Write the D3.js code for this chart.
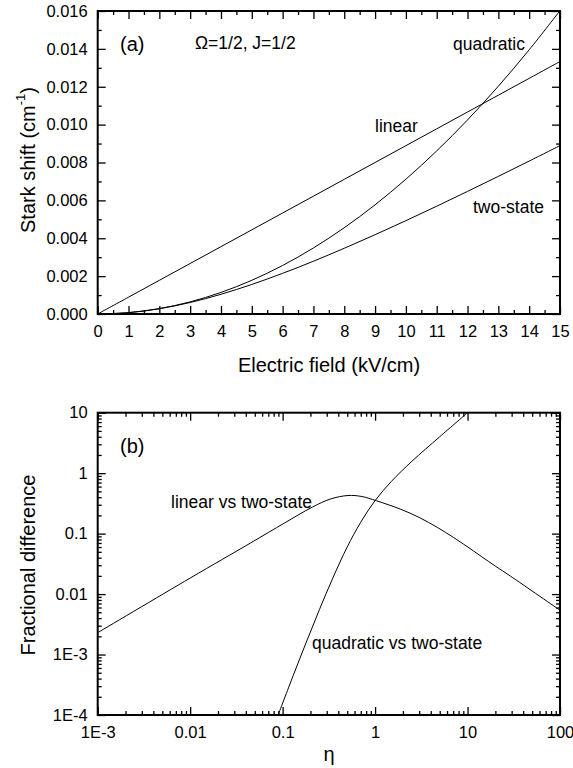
<!DOCTYPE html>
<html><head><meta charset="utf-8">
<script src="https://cdn.jsdelivr.net/npm/d3@7"></script>
<style>
html,body{margin:0;padding:0;background:#fff;}
svg{display:block;font-family:"Liberation Sans",Arial,Helvetica,sans-serif;}
</style></head>
<body>
<svg id="chart" width="573" height="768"></svg>
<script>
// ---------- Data: panel (a) ----------
const fieldA = [0,1,2,3,4,5,6,7,8,9,10,11,12,13,14,15];
const linearA = [0,0.000889,0.001778,0.002667,0.003556,0.004444,0.005333,0.006222,0.007111,0.008,0.008889,0.009778,0.010667,0.011556,0.012444,0.013333];
const quadraticA = [0,0.0000712,0.000285,0.000641,0.001139,0.001779,0.002562,0.003488,0.004556,0.005766,0.007118,0.008613,0.01025,0.01203,0.01395,0.01602];
const twoStateA = [0,0.0000711,0.000278,0.000607,0.001041,0.00156,0.002147,0.002787,0.003471,0.004187,0.004929,0.005693,0.006474,0.007269,0.008076,0.008892];
const xTickLabelsA = ["0","1","2","3","4","5","6","7","8","9","10","11","12","13","14","15"];
const yTickLabelsA = ["0.000","0.002","0.004","0.006","0.008","0.010","0.012","0.014","0.016"];

// ---------- Data: panel (b) ----------
const etaLin = [0.001,0.01,0.045,0.105,0.21,0.33,0.51,0.72,1.03,1.87,3,4.7,7,9.9,20,29,100];
const linVsTwo = [0.0023,0.0184,0.070,0.150,0.275,0.374,0.427,0.411,0.35,0.255,0.185,0.127,0.087,0.061,0.029,0.0199,0.0054];
const etaQuad = [0.0894,0.13,0.18,0.25,0.35,0.5,0.7,1.0,1.5,2.5,5,10];
const quadVsTwo = [0.0001,0.000447,0.00159,0.00553,0.0186,0.0603,0.1545,0.352,0.73,1.57,4.0,10];
const xTickLabelsB = ["1E-3","0.01","0.1","1","10","100"];
const yTickLabelsB = ["1E-4","1E-3","0.01","0.1","1","10"];

const svg = d3.select("#chart");

// panel geometry
const A = {l:97.7, r:560, t:11, b:314};
const B = {l:97.7, r:560, t:412.7, b:715};

const xA = d3.scaleLinear().domain([0,15]).range([A.l,A.r]);
const yA = d3.scaleLinear().domain([0,0.016]).range([A.b,A.t]);
const xB = d3.scaleLog().domain([1e-3,100]).range([B.l,B.r]);
const yB = d3.scaleLog().domain([1e-4,10]).range([B.b,B.t]);

const MAJ = 8, MIN = 4;
const fontTick = "16.5px";

function drawAxis(g, axis){
  g.call(axis);
  g.select(".domain").remove();
  g.selectAll(".tick line").attr("stroke","#000").attr("stroke-width",1.3);
  g.selectAll(".tick text").attr("fill","#000").style("font-size",fontTick).style("font-family","Liberation Sans, Arial, sans-serif");
}

function panelAxes(P, xs, ys, xMaj, xMin, yMaj, yMin, xLab, yLab){
  drawAxis(svg.append("g").attr("transform",`translate(0,${P.b})`),
    d3.axisBottom(xs).tickValues(xMaj).tickSizeInner(-MAJ).tickSizeOuter(0).tickPadding(11).tickFormat((d,i)=>xLab[i]));
  drawAxis(svg.append("g").attr("transform",`translate(0,${P.b})`),
    d3.axisBottom(xs).tickValues(xMin).tickSizeInner(-MIN).tickSizeOuter(0).tickFormat(""));
  drawAxis(svg.append("g").attr("transform",`translate(0,${P.t})`),
    d3.axisTop(xs).tickValues(xMaj).tickSizeInner(-MAJ).tickSizeOuter(0).tickFormat(""));
  drawAxis(svg.append("g").attr("transform",`translate(0,${P.t})`),
    d3.axisTop(xs).tickValues(xMin).tickSizeInner(-MIN).tickSizeOuter(0).tickFormat(""));
  drawAxis(svg.append("g").attr("transform",`translate(${P.l},0)`),
    d3.axisLeft(ys).tickValues(yMaj).tickSizeInner(-MAJ).tickSizeOuter(0).tickPadding(10).tickFormat((d,i)=>yLab[i]));
  drawAxis(svg.append("g").attr("transform",`translate(${P.l},0)`),
    d3.axisLeft(ys).tickValues(yMin).tickSizeInner(-MIN).tickSizeOuter(0).tickFormat(""));
  drawAxis(svg.append("g").attr("transform",`translate(${P.r},0)`),
    d3.axisRight(ys).tickValues(yMaj).tickSizeInner(-MAJ).tickSizeOuter(0).tickFormat(""));
  drawAxis(svg.append("g").attr("transform",`translate(${P.r},0)`),
    d3.axisRight(ys).tickValues(yMin).tickSizeInner(-MIN).tickSizeOuter(0).tickFormat(""));
  svg.append("rect").attr("x",P.l).attr("y",P.t).attr("width",P.r-P.l).attr("height",P.b-P.t)
    .attr("fill","none").attr("stroke","#000").attr("stroke-width",2);
}

// ---- Panel A axes
const xMajA = fieldA;
const xMinA = fieldA.slice(0,-1).map(d=>d+0.5);
const yMajA = [0,0.002,0.004,0.006,0.008,0.010,0.012,0.014,0.016];
const yMinA = [0.001,0.003,0.005,0.007,0.009,0.011,0.013,0.015];
panelAxes(A, xA, yA, xMajA, xMinA, yMajA, yMinA, xTickLabelsA, yTickLabelsA);

// ---- Panel B axes
const decX = [1e-3,1e-2,1e-1,1,10,100];
const decY = [1e-4,1e-3,1e-2,1e-1,1,10];
const minorsOf = decs => decs.slice(0,-1).flatMap(d=>[2,3,4,5,6,7,8,9].map(k=>k*d));
panelAxes(B, xB, yB, decX, minorsOf(decX), decY, minorsOf(decY), xTickLabelsB, yTickLabelsB);

// ---- clip paths
const defs = svg.append("defs");
defs.append("clipPath").attr("id","clipA").append("rect").attr("x",A.l).attr("y",A.t).attr("width",A.r-A.l).attr("height",A.b-A.t);
defs.append("clipPath").attr("id","clipB").append("rect").attr("x",B.l).attr("y",B.t).attr("width",B.r-B.l).attr("height",B.b-B.t);

// ---- curves panel A
const lineA = d3.line().x(d=>xA(d[0])).y(d=>yA(d[1])).curve(d3.curveCatmullRom.alpha(0.5));
[linearA, quadraticA, twoStateA].forEach(s=>{
  svg.append("path").attr("clip-path","url(#clipA)")
    .datum(fieldA.map((e,i)=>[e,s[i]]))
    .attr("d",lineA).attr("fill","none").attr("stroke","#000").attr("stroke-width",1);
});

// ---- curves panel B
const lineB = d3.line().x(d=>xB(d[0])).y(d=>yB(d[1])).curve(d3.curveCatmullRom.alpha(0.5));
svg.append("path").attr("clip-path","url(#clipB)")
  .datum(etaLin.map((e,i)=>[e,linVsTwo[i]]))
  .attr("d",lineB).attr("fill","none").attr("stroke","#000").attr("stroke-width",1);
svg.append("path").attr("clip-path","url(#clipB)")
  .datum(etaQuad.map((e,i)=>[e,quadVsTwo[i]]))
  .attr("d",lineB).attr("fill","none").attr("stroke","#000").attr("stroke-width",1);

// ---- text annotations
function txt(x,y,s,size,anchor){
  return svg.append("text").attr("x",x).attr("y",y).attr("text-anchor",anchor||"start")
    .attr("dominant-baseline","central").style("font-size",size).attr("fill","#000").text(s);
}
txt(120,44,"(a)","20px");
txt(195,43,"\u03A9=1/2, J=1/2","17.5px");
txt(453,44,"quadratic","17.5px");
txt(375,126,"linear","17.5px");
txt(473,207,"two-state","17.5px");
txt(120,446,"(b)","20px");
txt(171,502,"linear vs two-state","17.5px");
txt(312,643,"quadratic vs two-state","17.5px");

// axis titles
txt(329,365,"Electric field (kV/cm)","20px","middle");
txt(329,754,"\u03B7","20px","middle");
const yt = svg.append("text").attr("transform","translate(28,160) rotate(-90)")
  .attr("text-anchor","middle").attr("dominant-baseline","central").style("font-size","20px");
yt.append("tspan").text("Stark shift (cm");
yt.append("tspan").attr("baseline-shift","super").style("font-size","13px").text("-1");
yt.append("tspan").text(")");
svg.append("text").attr("transform","translate(28,565) rotate(-90)")
  .attr("text-anchor","middle").attr("dominant-baseline","central").style("font-size","20px").text("Fractional difference");
</script>
</body></html>
